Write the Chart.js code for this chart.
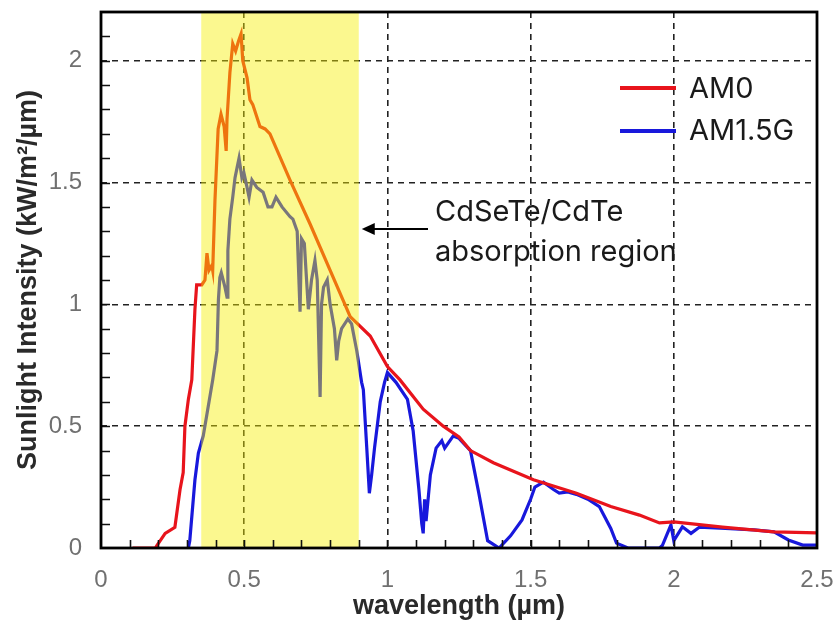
<!DOCTYPE html>
<html><head><meta charset="utf-8">
<script src="https://cdn.jsdelivr.net/npm/chart.js@4.4.1/dist/chart.umd.min.js"></script>
<style>html,body{margin:0;padding:0;background:#fff;} #wrap{width:839px;height:623px;}</style>
</head><body><div id="wrap"><canvas id="c" width="839" height="623"></canvas></div>
<script>
const seriesNames = ['AM0', 'AM1.5G'];
const am0Wavelength = [0.11,0.19,0.195,0.224,0.258,0.276,0.287,0.293,0.305,0.317,0.328,0.334,0.352,0.363,0.37,0.377,0.387,0.39,0.398,0.409,0.419,0.43,0.437,0.44,0.45,0.46,0.47,0.48,0.489,0.495,0.51,0.52,0.53,0.555,0.573,0.59,0.66,0.73,0.87,0.94,1.0,1.044,1.125,1.195,1.25,1.29,1.37,1.51,1.66,1.78,1.88,1.95,2.0,2.17,2.35,2.5];
const am0Intensity  = [0,0,0.01,0.06,0.085,0.24,0.31,0.5,0.61,0.69,0.98,1.08,1.08,1.1,1.21,1.14,1.16,1.14,1.43,1.72,1.78,1.73,1.63,1.76,1.95,2.07,2.04,2.08,2.11,2.0,1.93,1.84,1.82,1.73,1.72,1.70,1.51,1.33,0.95,0.87,0.745,0.69,0.57,0.50,0.456,0.40,0.35,0.28,0.225,0.17,0.135,0.103,0.107,0.086,0.066,0.062];
const am15Wavelength = [0.305,0.31,0.328,0.34,0.357,0.37,0.39,0.405,0.41,0.415,0.42,0.433,0.44,0.443,0.45,0.46,0.468,0.475,0.482,0.492,0.499,0.51,0.517,0.527,0.544,0.566,0.583,0.597,0.611,0.632,0.66,0.67,0.685,0.695,0.70,0.71,0.724,0.735,0.747,0.755,0.765,0.77,0.777,0.79,0.80,0.815,0.823,0.83,0.84,0.862,0.875,0.893,0.91,0.916,0.928,0.937,0.945,0.955,0.975,0.99,1.0,1.03,1.07,1.09,1.11,1.12,1.125,1.13,1.135,1.15,1.17,1.19,1.2,1.23,1.25,1.29,1.32,1.35,1.39,1.43,1.47,1.5,1.515,1.545,1.58,1.6,1.63,1.66,1.7,1.74,1.78,1.8,1.84,1.95,1.96,1.99,2.0,2.03,2.06,2.09,2.18,2.28,2.35,2.4,2.45,2.5];
const am15Intensity  = [0,0.03,0.28,0.39,0.46,0.55,0.69,0.81,1.02,1.11,1.13,1.07,1.03,1.22,1.35,1.44,1.52,1.56,1.6,1.52,1.54,1.48,1.44,1.51,1.48,1.46,1.40,1.40,1.44,1.40,1.36,1.35,1.30,0.97,1.27,1.25,0.98,1.1,1.18,1.1,0.62,1.0,1.07,1.1,1.0,0.9,0.77,0.85,0.9,0.94,0.92,0.81,0.68,0.65,0.41,0.225,0.3,0.41,0.6,0.68,0.72,0.68,0.61,0.48,0.24,0.1,0.06,0.2,0.11,0.3,0.41,0.44,0.41,0.46,0.45,0.40,0.22,0.03,0.0,0.05,0.115,0.2,0.25,0.27,0.24,0.225,0.23,0.22,0.2,0.17,0.08,0.02,0.0,0.0,0.01,0.095,0.03,0.087,0.06,0.086,0.08,0.074,0.066,0.033,0.012,0.012];
const seriesColors = ['#e8141c', '#1818dc'];
const xTickValues = [0, 0.5, 1, 1.5, 2, 2.5];
const yTickValues = [0, 0.5, 1, 1.5, 2];
const absorptionBand = [0.35, 0.9];
const annotationLines = ['CdSeTe/CdTe', 'absorption region'];
const xTitle = 'wavelength (µm)';
const yTitle = 'Sunlight Intensity (kW/m²/µm)';

const toPoints = (xs, ys) => xs.map((v, i) => ({x: v, y: ys[i]}));

const decor = {
  id: 'decor',
  afterDatasetsDraw(chart) {
    const {ctx, chartArea: a, scales: {x, y}} = chart;
    ctx.save();
    // absorption band overlay
    const bx0 = x.getPixelForValue(absorptionBand[0]);
    const bx1 = x.getPixelForValue(absorptionBand[1]);
    ctx.fillStyle = 'rgba(246,238,0,0.44)';
    ctx.fillRect(bx0, a.top, bx1 - bx0, a.bottom - a.top);
    // minor ticks
    ctx.strokeStyle = '#111';
    ctx.lineWidth = 1.6;
    ctx.beginPath();
    for (let i = 1; i < 25; i++) {
      const px = Math.round(x.getPixelForValue(i / 10)) + 0.5;
      ctx.moveTo(px, a.bottom); ctx.lineTo(px, a.bottom - 8);
    }
    for (let i = 1; i < 22; i++) {
      const py = Math.round(y.getPixelForValue(i / 10)) + 0.5;
      ctx.moveTo(a.left, py); ctx.lineTo(a.left + 9, py);
    }
    ctx.stroke();
    // frame
    ctx.lineWidth = 2.8;
    ctx.strokeStyle = '#000';
    ctx.strokeRect(a.left, a.top, a.right - a.left, a.bottom - a.top);
    // legend
    ctx.font = '29px Inter, "Liberation Sans", sans-serif';
    ctx.textBaseline = 'alphabetic';
    ctx.textAlign = 'left';
    const legY = [88, 131];
    const legBase = [98, 140];
    chart.data.datasets.forEach((ds, i) => {
      ctx.strokeStyle = ds.borderColor;
      ctx.lineWidth = 4;
      ctx.beginPath();
      ctx.moveTo(a.right - 197, legY[i]); ctx.lineTo(a.right - 141, legY[i]);
      ctx.stroke();
      ctx.fillStyle = '#1a1a1a';
      ctx.fillText(ds.label, a.right - 128, legBase[i]);
    });
    // annotation arrow
    const tipX = bx1 + 3, ay = 229, tailX = 428;
    ctx.strokeStyle = '#000';
    ctx.fillStyle = '#000';
    ctx.lineWidth = 2.2;
    ctx.beginPath(); ctx.moveTo(tailX, ay); ctx.lineTo(tipX + 8, ay); ctx.stroke();
    ctx.beginPath(); ctx.moveTo(tipX, ay); ctx.lineTo(tipX + 13, ay - 6); ctx.lineTo(tipX + 13, ay + 6); ctx.closePath(); ctx.fill();
    ctx.fillStyle = '#1a1a1a';
    ctx.fillText(annotationLines[0], 435, 221);
    ctx.fillText(annotationLines[1], 435, 261);
    ctx.restore();
  }
};

new Chart(document.getElementById('c'), {
  type: 'scatter',
  data: {
    datasets: [
      {label: seriesNames[0], data: toPoints(am0Wavelength, am0Intensity), showLine: true, borderColor: seriesColors[0], backgroundColor: seriesColors[0], borderWidth: 3.2, pointRadius: 0, tension: 0},
      {label: seriesNames[1], data: toPoints(am15Wavelength, am15Intensity), showLine: true, borderColor: seriesColors[1], backgroundColor: seriesColors[1], borderWidth: 3.2, pointRadius: 0, tension: 0}
    ]
  },
  options: {
    responsive: false,
    animation: false,
    layout: {padding: {top: 12, right: 22, left: 0, bottom: 0}},
    plugins: {legend: {display: false}, tooltip: {enabled: false}},
    scales: {
      x: {
        type: 'linear', min: 0, max: 2.5,
        afterBuildTicks: s => { s.ticks = xTickValues.map(v => ({value: v})); },
        afterFit: s => { s.height = 75; s.paddingLeft = 0; s.paddingRight = 0; },
        ticks: {font: {family: '"Liberation Sans", Arial, sans-serif', size: 24}, color: '#707070', padding: 18, maxRotation: 0, callback: v => String(v)},
        grid: {color: '#222', lineWidth: 1.6, drawTicks: false},
        border: {display: false, dash: [6, 5]},
        title: {display: true, text: xTitle, color: '#2a2a2a', font: {family: '"Liberation Sans", Arial, sans-serif', size: 27, weight: 'bold'}, padding: {top: 0, bottom: 0}}
      },
      y: {
        type: 'linear', min: 0, max: 2.2,
        afterBuildTicks: s => { s.ticks = yTickValues.map(v => ({value: v})); },
        afterFit: s => { s.width = 101; s.paddingTop = 0; s.paddingBottom = 0; },
        ticks: {font: {family: '"Liberation Sans", Arial, sans-serif', size: 24}, color: '#707070', padding: 19, callback: v => String(v)},
        grid: {color: '#222', lineWidth: 1.6, drawTicks: false},
        border: {display: false, dash: [6, 5]},
        title: {display: true, text: yTitle, color: '#2a2a2a', font: {family: '"Liberation Sans", Arial, sans-serif', size: 27, weight: 'bold'}, padding: {top: 12, bottom: 0}}
      }
    }
  },
  plugins: [decor]
});
</script></body></html>
